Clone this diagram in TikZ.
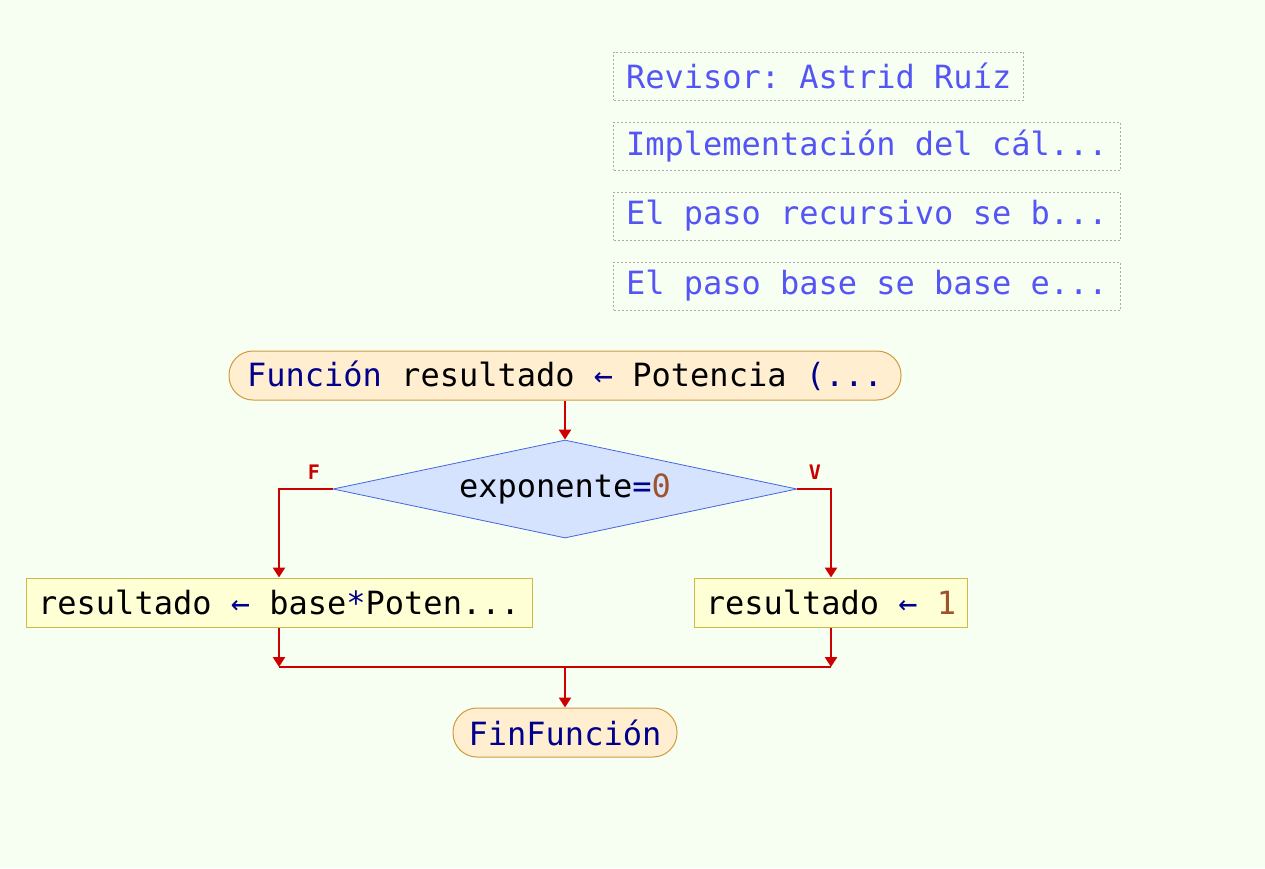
\documentclass[tikz,border=0pt]{standalone}
\usepackage{fontspec}
\setmonofont{DejaVu Sans Mono}
\usetikzlibrary{arrows.meta,shapes.geometric}
\definecolor{bg}{RGB}{247,255,242}
\definecolor{noteblue}{RGB}{85,85,245}
\definecolor{notegray}{RGB}{170,170,170}
\definecolor{termfill}{RGB}{255,239,208}
\definecolor{termborder}{RGB}{208,154,64}
\definecolor{procfill}{RGB}{255,255,213}
\definecolor{procborder}{RGB}{204,187,68}
\definecolor{decfill}{RGB}{213,227,255}
\definecolor{decborder}{RGB}{68,102,221}
\definecolor{flowred}{RGB}{204,0,0}
\definecolor{kw}{RGB}{0,0,140}
\definecolor{num}{RGB}{160,82,45}
\begin{document}
\begin{tikzpicture}[x=1pt,y=-1pt,
  every node/.style={font=\ttfamily\fontsize{32}{38}\selectfont},
  note/.style={draw=notegray, dash pattern=on 2pt off 2pt, line width=1pt, text=noteblue, anchor=west, inner xsep=12.5pt, inner ysep=0pt, minimum height=48pt},
  term/.style={draw=termborder, fill=termfill, rounded corners=24pt, minimum height=49pt, line width=1pt},
  proc/.style={draw=procborder, fill=procfill, minimum height=49pt, line width=1pt, inner xsep=11pt},
  dec/.style={diamond, draw=decborder, fill=decfill, minimum width=464pt, minimum height=98pt, aspect=4.73, inner sep=0pt, line width=0.8pt},
  flow/.style={draw=flowred, line width=2.6pt, -{Triangle[width=12pt,length=10pt]}},
  plainline/.style={draw=flowred, line width=2.6pt},
  lbl/.style={text=flowred, font=\ttfamily\bfseries\fontsize{20}{24}\selectfont}
]
\fill[bg] (0,0) rectangle (1265,868);
\useasboundingbox (0,0) rectangle (1265,868);

\node[note] (n1) at (613,76) {Revisor: Astrid Ruíz};
\node[note] (n2) at (613,146) {Implementación del cál...};
\node[note] (n3) at (613,216) {El paso recursivo se b...};
\node[note] (n4) at (613,286) {El paso base se base e...};

\node[term, minimum width=672pt] (start) at (565,375.5) {\textcolor{kw}{Función} resultado \textcolor{kw}{←} Potencia \textcolor{kw}{(...}};
\node[dec] (d) at (565,489) {exponente\textcolor{kw}{=}\textcolor{num}{0}};
\node[proc, minimum width=506pt] (p1) at (279,602.5) {resultado \textcolor{kw}{←} base\textcolor{kw}{*}Poten...};
\node[proc, minimum width=272pt] (p2) at (831,602.5) {resultado \textcolor{kw}{←} \textcolor{num}{1}};
\node[term, minimum width=224pt] (end) at (565,732.5) {\textcolor{kw}{FinFunción}};

\node[lbl] (lf) at (314,472) {F};
\node[lbl] (lv) at (815,472) {V};

\coordinate (jl) at (279,667);
\coordinate (jr) at (831,667);
\coordinate (jm) at (565,667);

\draw[flow] (start) -- (d);
\draw[flow] (d.west) -| (p1.north);
\draw[flow] (d.east) -| (p2.north);
\draw[flow] (p1.south) -- (jl);
\draw[flow] (p2.south) -- (jr);
\draw[plainline] (jl) -- (jr);
\draw[flow] (jm) -- (end.north);
\end{tikzpicture}
\end{document}
